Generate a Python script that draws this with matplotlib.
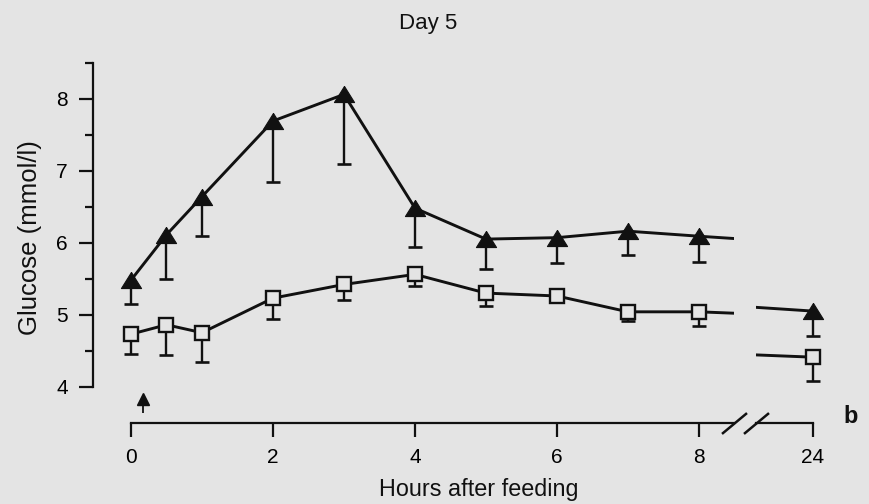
import numpy as np
import matplotlib
matplotlib.use("Agg")
import matplotlib.pyplot as plt

plt.rcParams["font.family"] = ["Liberation Sans", "DejaVu Sans"]

# =========================
# Data: glucose after feeding, day 5
# =========================
hours = [0, 0.5, 1, 2, 3, 4, 5, 6, 7, 8, 24]

tri_mean = [5.48, 6.11, 6.64, 7.69, 8.06, 6.48, 6.05, 6.07, 6.16, 6.09, 5.05]
tri_low = [5.15, 5.50, 6.09, 6.85, 7.09, 5.94, 5.63, 5.72, 5.83, 5.73, 4.71]

sq_mean = [4.73, 4.86, 4.75, 5.23, 5.42, 5.56, 5.30, 5.26, 5.04, 5.04, 4.41]
sq_low = [4.45, 4.44, 4.34, 4.94, 5.21, 5.40, 5.12, 5.22, 4.91, 4.85, 4.08]

feed_time = 0.17
y_ticks = [4, 5, 6, 7, 8]
x_ticks_left = [0, 2, 4, 6, 8]
x_ticks_right = [24]

BG = "#e4e4e4"
INK = "#111111"

fig = plt.figure(figsize=(8.7, 5.04), dpi=100, facecolor=BG)

W, H = 870.0, 504.0
bottom = (H - 422.7) / H
height = 360.0 / H
ax1 = fig.add_axes([93 / W, bottom, (734 - 93) / W, height])
ax2 = fig.add_axes([756 / W, bottom, (840 - 756) / W, height])

tri_marker = [(0, 1), (-1.25, -1), (1.25, -1), (0, 1)]

for ax in (ax1, ax2):
    ax.set_facecolor(BG)
    ax.set_ylim(3.5, 8.5)
    for s in ("top", "right"):
        ax.spines[s].set_visible(False)
    # lower error bars with caps
    ax.vlines(hours, tri_low, tri_mean, color=INK, lw=1.7, zorder=2)
    ax.plot(hours, tri_low, ls="none", marker="_", ms=10, mew=1.9, color=INK, zorder=2)
    ax.vlines(hours, sq_low, sq_mean, color=INK, lw=1.7, zorder=2)
    ax.plot(hours, sq_low, ls="none", marker="_", ms=10, mew=1.9, color=INK, zorder=2)
    # series
    ax.plot(hours, tri_mean, color=INK, lw=2.1, marker=tri_marker, ms=14.5,
            mfc=INK, mec=INK, mew=0.8, zorder=3)
    ax.plot(hours, sq_mean, color=INK, lw=2.1, marker="s", ms=9.8,
            mfc=BG, mec=INK, mew=1.7, zorder=3)

ax1.set_xlim(-0.535, 8.493)
ax2.set_xlim(23.197, 24.38)

ax1.spines["left"].set_bounds(4, 8.5)
ax1.spines["bottom"].set_bounds(0, 8.493)
ax2.spines["bottom"].set_bounds(23.197, 24)
ax2.spines["left"].set_visible(False)
for ax in (ax1, ax2):
    ax.spines["left"].set_linewidth(1.6)
    ax.spines["bottom"].set_linewidth(1.6)
    ax.spines["left"].set_color(INK)
    ax.spines["bottom"].set_color(INK)

ax1.set_yticks(y_ticks)
ax1.set_yticks(np.arange(4.5, 8.6, 1.0), minor=True)
ax1.tick_params(axis="y", which="major", length=10, width=1.6, labelsize=15, pad=8, color=INK)
ax1.tick_params(axis="y", which="minor", length=6, width=1.6, color=INK)
ax1.set_xticks(x_ticks_left)
ax1.set_xticklabels([str(t) for t in x_ticks_left])
ax2.set_xticks(x_ticks_right)
ax2.set_xticklabels([str(t) for t in x_ticks_right])
ax2.set_yticks([])
for ax in (ax1, ax2):
    ax.tick_params(axis="x", length=10, width=1.6, labelsize=15, pad=8, color=INK)

# feeding arrow
ax1.vlines(feed_time, 3.635, 3.79, color=INK, lw=1.3)
ax1.plot([feed_time], [3.83], marker="^", ms=8.5, color=INK, ls="none")

# axis break slashes
slash = [(-1.2, -1), (1.2, 1)]
ax1.plot([1], [0], transform=ax1.transAxes, marker=slash, ms=18, mew=1.8,
         color=INK, ls="none", clip_on=False)
ax2.plot([0], [0], transform=ax2.transAxes, marker=slash, ms=18, mew=1.8,
         color=INK, ls="none", clip_on=False)

fig.text(428 / W, 1 - 29.3 / H, "Day 5", ha="center", va="baseline", fontsize=16, color=INK)
fig.text(479 / W, 1 - 496 / H, "Hours after feeding", ha="center", va="baseline",
         fontsize=16.8, color=INK)
fig.text(30 / W, 1 - 238 / H, "Glucose (mmol/l)", rotation=90, ha="center", va="center",
         fontsize=18.5, color=INK)
fig.text(851 / W, 1 - 423 / H, "b", ha="center", va="baseline", fontsize=17,
         fontweight="bold", color=INK)

fig.savefig("out.png", dpi=100, facecolor=BG)
